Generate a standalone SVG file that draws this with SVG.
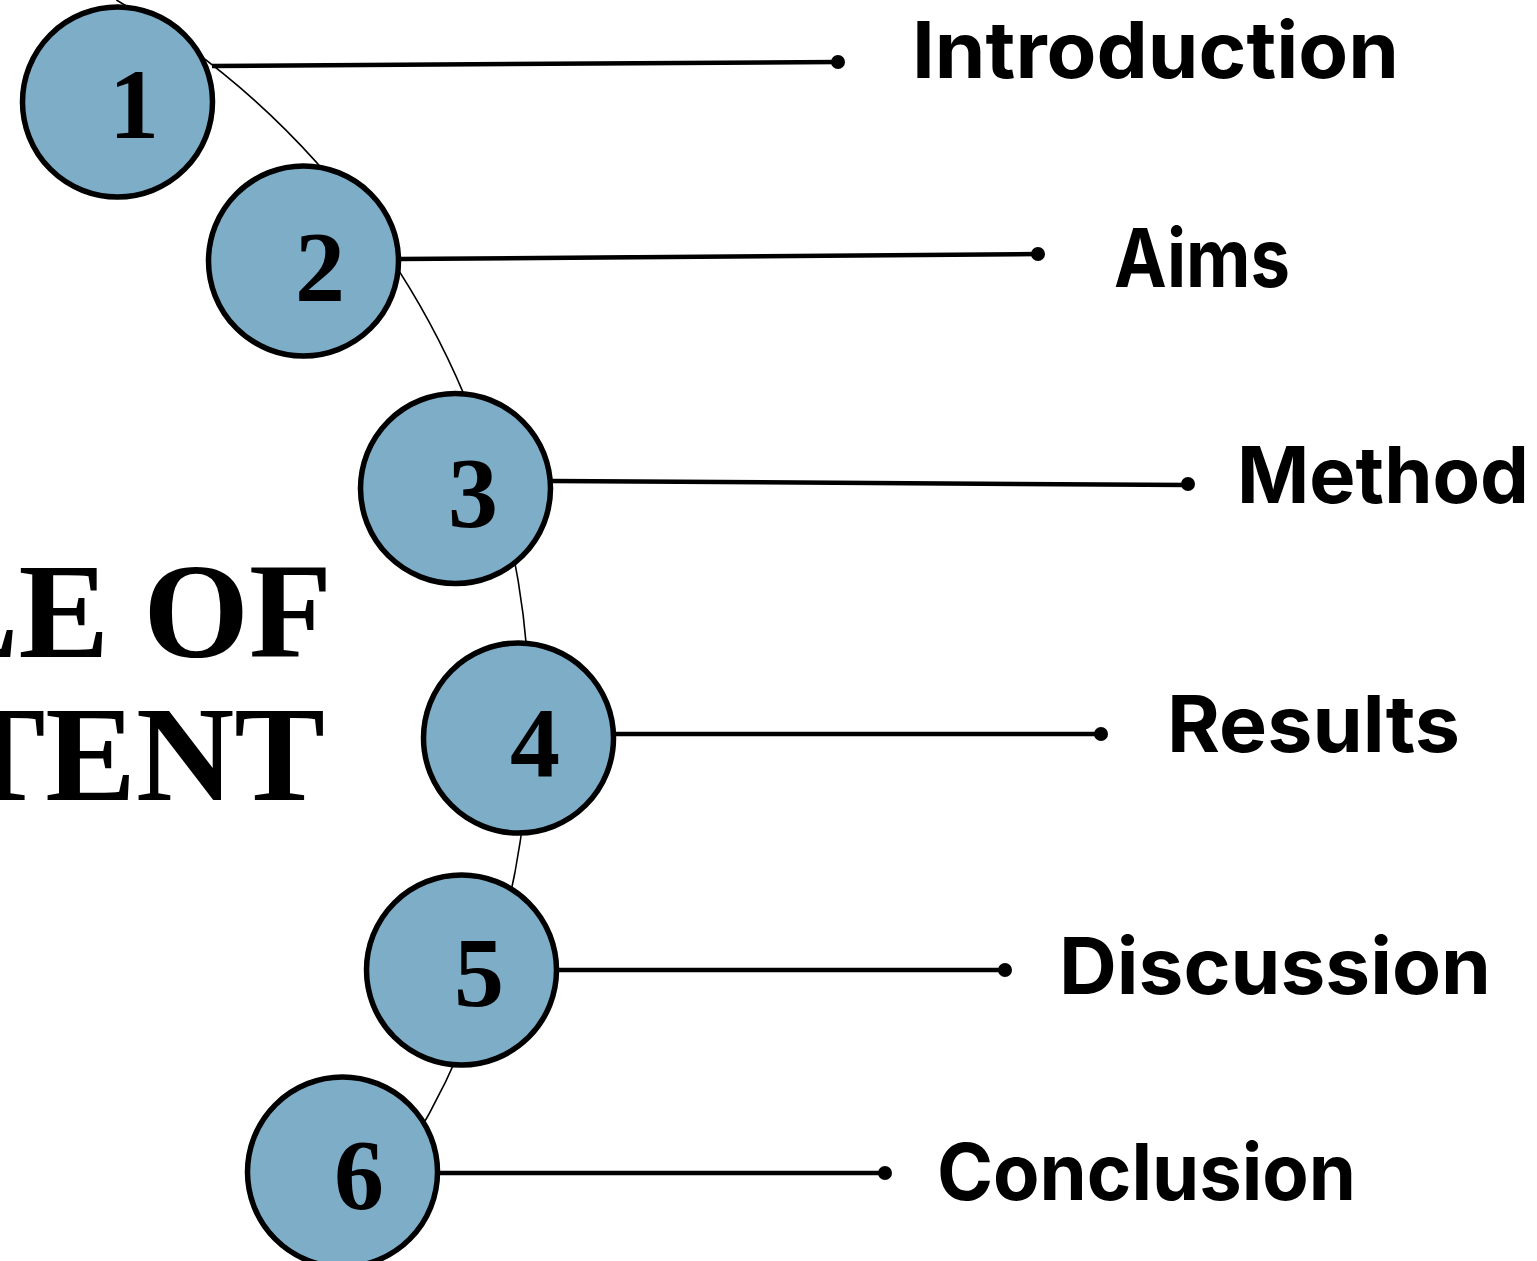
<svg xmlns="http://www.w3.org/2000/svg" width="1537" height="1261" viewBox="0 0 1537 1261">
<style>
.node{fill:#7EADC7;stroke:#000;stroke-width:5.5}
.num{font-family:"Liberation Serif","Times New Roman",serif;font-weight:bold;font-size:100px;text-anchor:middle;fill:#000}
.lbl{font-family:Inter,"Liberation Sans",sans-serif;font-weight:700;font-size:78px;fill:#000}
.title{font-family:"Liberation Serif","Times New Roman",serif;font-weight:bold;font-size:136px;text-anchor:end;fill:#000}
.conn{stroke:#000;stroke-width:4.5;fill:none}
.dot{fill:#000}
.arc{stroke:#000;stroke-width:1.6;fill:none}
</style>
<rect width="1537" height="1261" fill="#fff"/>
<g id="title">
<text class="title" x="332" y="657">LE OF</text>
<text class="title" x="325" y="800">TENT</text>
</g>
<path class="arc" d="M116.4,0 A830,830 0 0 1 327,1261"/>
<g id="connectors">
<line class="conn" x1="212" y1="66" x2="838" y2="62"/><circle class="dot" cx="838" cy="62" r="7"/>
<line class="conn" x1="400" y1="259" x2="1038" y2="254"/><circle class="dot" cx="1038" cy="254" r="7"/>
<line class="conn" x1="552" y1="481" x2="1188" y2="485"/><circle class="dot" cx="1188" cy="484" r="7"/>
<line class="conn" x1="615" y1="734" x2="1101" y2="734"/><circle class="dot" cx="1101" cy="734" r="7"/>
<line class="conn" x1="558" y1="970" x2="1005" y2="970"/><circle class="dot" cx="1005" cy="970" r="7"/>
<line class="conn" x1="439" y1="1173" x2="885" y2="1173"/><circle class="dot" cx="885" cy="1173" r="7"/>
</g>
<g id="node1"><circle class="node" cx="117.5" cy="102" r="95"/><text class="num" x="134" y="138">1</text></g>
<g id="node2"><circle class="node" cx="303.5" cy="261" r="95"/><text class="num" x="320" y="300">2</text></g>
<g id="node3"><circle class="node" cx="455.5" cy="488.5" r="95"/><text class="num" x="473" y="526">3</text></g>
<g id="node4"><circle class="node" cx="518.5" cy="738" r="95"/><text class="num" x="535" y="776">4</text></g>
<g id="node5"><circle class="node" cx="461.5" cy="970" r="95"/><text class="num" x="479" y="1006">5</text></g>
<g id="node6"><circle class="node" cx="342.5" cy="1172" r="95"/><text class="num" x="359" y="1208">6</text></g>
<g id="labels">
<text class="lbl" x="912" y="78" textLength="487" lengthAdjust="spacingAndGlyphs">Introduction</text>
<text class="lbl" x="1114" y="287" textLength="176" lengthAdjust="spacingAndGlyphs" style="font-size:81px">Aims</text>
<text class="lbl" x="1237" y="503" textLength="292" lengthAdjust="spacingAndGlyphs">Method</text>
<text class="lbl" x="1167" y="752" textLength="293" lengthAdjust="spacingAndGlyphs">Results</text>
<text class="lbl" x="1059" y="994" textLength="432" lengthAdjust="spacingAndGlyphs">Discussion</text>
<text class="lbl" x="937" y="1200" textLength="419" lengthAdjust="spacingAndGlyphs">Conclusion</text>
</g>
</svg>
